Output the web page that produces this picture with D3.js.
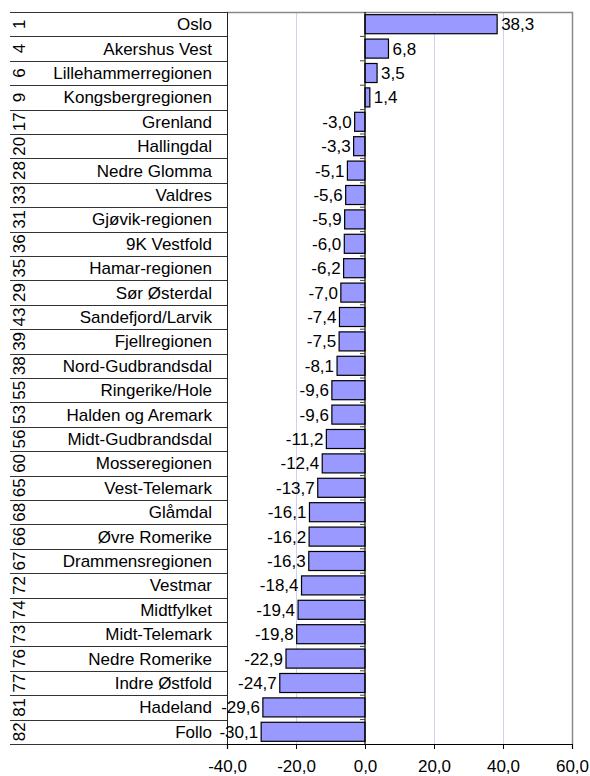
<!DOCTYPE html>
<html>
<head>
<meta charset="utf-8">
<script src="https://cdn.jsdelivr.net/npm/d3@7"></script>
<style>
  body { margin: 0; background: #fff; }
  svg { display: block; font-family: "Liberation Sans", Arial, sans-serif; }
</style>
</head>
<body>
<svg id="chart" width="590" height="776"></svg>
<script>
const ranks = [1, 4, 6, 9, 17, 20, 28, 33, 31, 36, 35, 29, 43, 39, 38, 55, 53, 56, 60, 65, 68, 66, 67, 72, 74, 73, 76, 77, 81, 82];
const regions = ["Oslo", "Akershus Vest", "Lillehammerregionen", "Kongsbergregionen", "Grenland", "Hallingdal",
  "Nedre Glomma", "Valdres", "Gjøvik-regionen", "9K Vestfold", "Hamar-regionen", "Sør Østerdal",
  "Sandefjord/Larvik", "Fjellregionen", "Nord-Gudbrandsdal", "Ringerike/Hole", "Halden og Aremark",
  "Midt-Gudbrandsdal", "Mosseregionen", "Vest-Telemark", "Glåmdal", "Øvre Romerike", "Drammensregionen",
  "Vestmar", "Midtfylket", "Midt-Telemark", "Nedre Romerike", "Indre Østfold", "Hadeland", "Follo"];
const values = [38.3, 6.8, 3.5, 1.4, -3.0, -3.3, -5.1, -5.6, -5.9, -6.0, -6.2, -7.0, -7.4, -7.5, -8.1,
  -9.6, -9.6, -11.2, -12.4, -13.7, -16.1, -16.2, -16.3, -18.4, -19.4, -19.8, -22.9, -24.7, -29.6, -30.1];
const xTicks = [-40, -20, 0, 20, 40, 60];

(function () {
const svg = d3.select("#chart");
const pL = 227, pR = 572, pT = 12, pB = 744;
const tableLeft = 10;
const FS = 17;
const fmt = v => d3.format(".1f")(v).replace(".", ",").replace("−", "-");

const x = d3.scaleLinear().domain([-40, 60]).range([pL, pR]);
const yRows = d3.scaleBand().domain(d3.range(regions.length)).range([pT, pB]).padding(0);
const y = d3.scaleBand().domain(d3.range(regions.length)).range([pT, pB]).paddingInner(0.22).paddingOuter(0.11);

// gridlines
svg.append("g").selectAll("line").data(xTicks.filter(t => t !== -40 && t !== 0 && t !== 60)).join("line")
  .attr("x1", d => x(d) + 0.5).attr("x2", d => x(d) + 0.5)
  .attr("y1", pT).attr("y2", pB)
  .attr("stroke", "#d0d0f6").attr("stroke-width", 1);

// plot border (top & right, grey)
svg.append("path")
  .attr("d", `M${pL},${pT + 0.5}H${pR + 0.5}V${pB}`)
  .attr("fill", "none").attr("stroke", "#8a8a8a").attr("stroke-width", 1.5);

// table lines
const rowLines = d3.range(regions.length + 1);
svg.append("g").selectAll("line").data(rowLines).join("line")
  .attr("x1", tableLeft).attr("x2", pL)
  .attr("y1", d => Math.round(pT + d * yRows.step()) + 0.5)
  .attr("y2", d => Math.round(pT + d * yRows.step()) + 0.5)
  .attr("stroke", "#333").attr("stroke-width", 1);
svg.append("line")
  .attr("x1", pL + 0.5).attr("x2", pL + 0.5).attr("y1", pT).attr("y2", pB)
  .attr("stroke", "#222").attr("stroke-width", 1);

// rank labels (rotated)
svg.append("g").selectAll("text").data(ranks).join("text")
  .attr("transform", (d, i) => `translate(24.5,${yRows(i) + yRows.bandwidth() / 2}) rotate(-90)`)
  .attr("text-anchor", "middle")
  .attr("font-size", FS).attr("fill", "#000")
  .text(d => d);

// names
svg.append("g").selectAll("text").data(regions).join("text")
  .attr("x", 212)
  .attr("y", (d, i) => yRows(i) + yRows.bandwidth() / 2 + 6)
  .attr("text-anchor", "end")
  .attr("font-size", FS).attr("fill", "#000")
  .text(d => d);

// bars
svg.append("g").selectAll("rect").data(values).join("rect")
  .attr("x", d => x(Math.min(0, d)))
  .attr("width", d => Math.abs(x(d) - x(0)))
  .attr("y", (d, i) => y(i))
  .attr("height", y.bandwidth())
  .attr("fill", "#9999ff").attr("stroke", "#000").attr("stroke-width", 1.2);

// value labels
svg.append("g").selectAll("text").data(values).join("text")
  .attr("x", d => d >= 0 ? x(d) + 4 : x(d) - 3)
  .attr("y", (d, i) => y(i) + y.bandwidth() / 2 + 6)
  .attr("text-anchor", d => d >= 0 ? "start" : "end")
  .attr("font-size", FS).attr("fill", "#000")
  .text(d => fmt(d));

// y axis at 0 with ticks at row boundaries
const yAxisG = svg.append("g");
yAxisG.append("line")
  .attr("x1", x(0)).attr("x2", x(0)).attr("y1", pT).attr("y2", pB)
  .attr("stroke", "#000").attr("stroke-width", 1.2);
yAxisG.selectAll("line.tk").data(d3.range(1, regions.length)).join("line").attr("class", "tk")
  .attr("x1", x(0) - 5).attr("x2", x(0))
  .attr("y1", d => pT + d * yRows.step()).attr("y2", d => pT + d * yRows.step())
  .attr("stroke", "#444").attr("stroke-width", 1);

// x axis
const xAxis = d3.axisBottom(x).tickValues(xTicks).tickSize(5).tickPadding(11)
  .tickFormat(d => fmt(d));
const xg = svg.append("g").attr("transform", `translate(0,${pB})`).call(xAxis);
xg.select(".domain").attr("stroke", "#000").attr("stroke-width", 1.2);
xg.selectAll(".tick line").attr("stroke", "#000");
xg.selectAll(".tick text").attr("font-size", FS).attr("fill", "#000")
  .attr("font-family", "'Liberation Sans', Arial, sans-serif");
})();
</script>
</body>
</html>
